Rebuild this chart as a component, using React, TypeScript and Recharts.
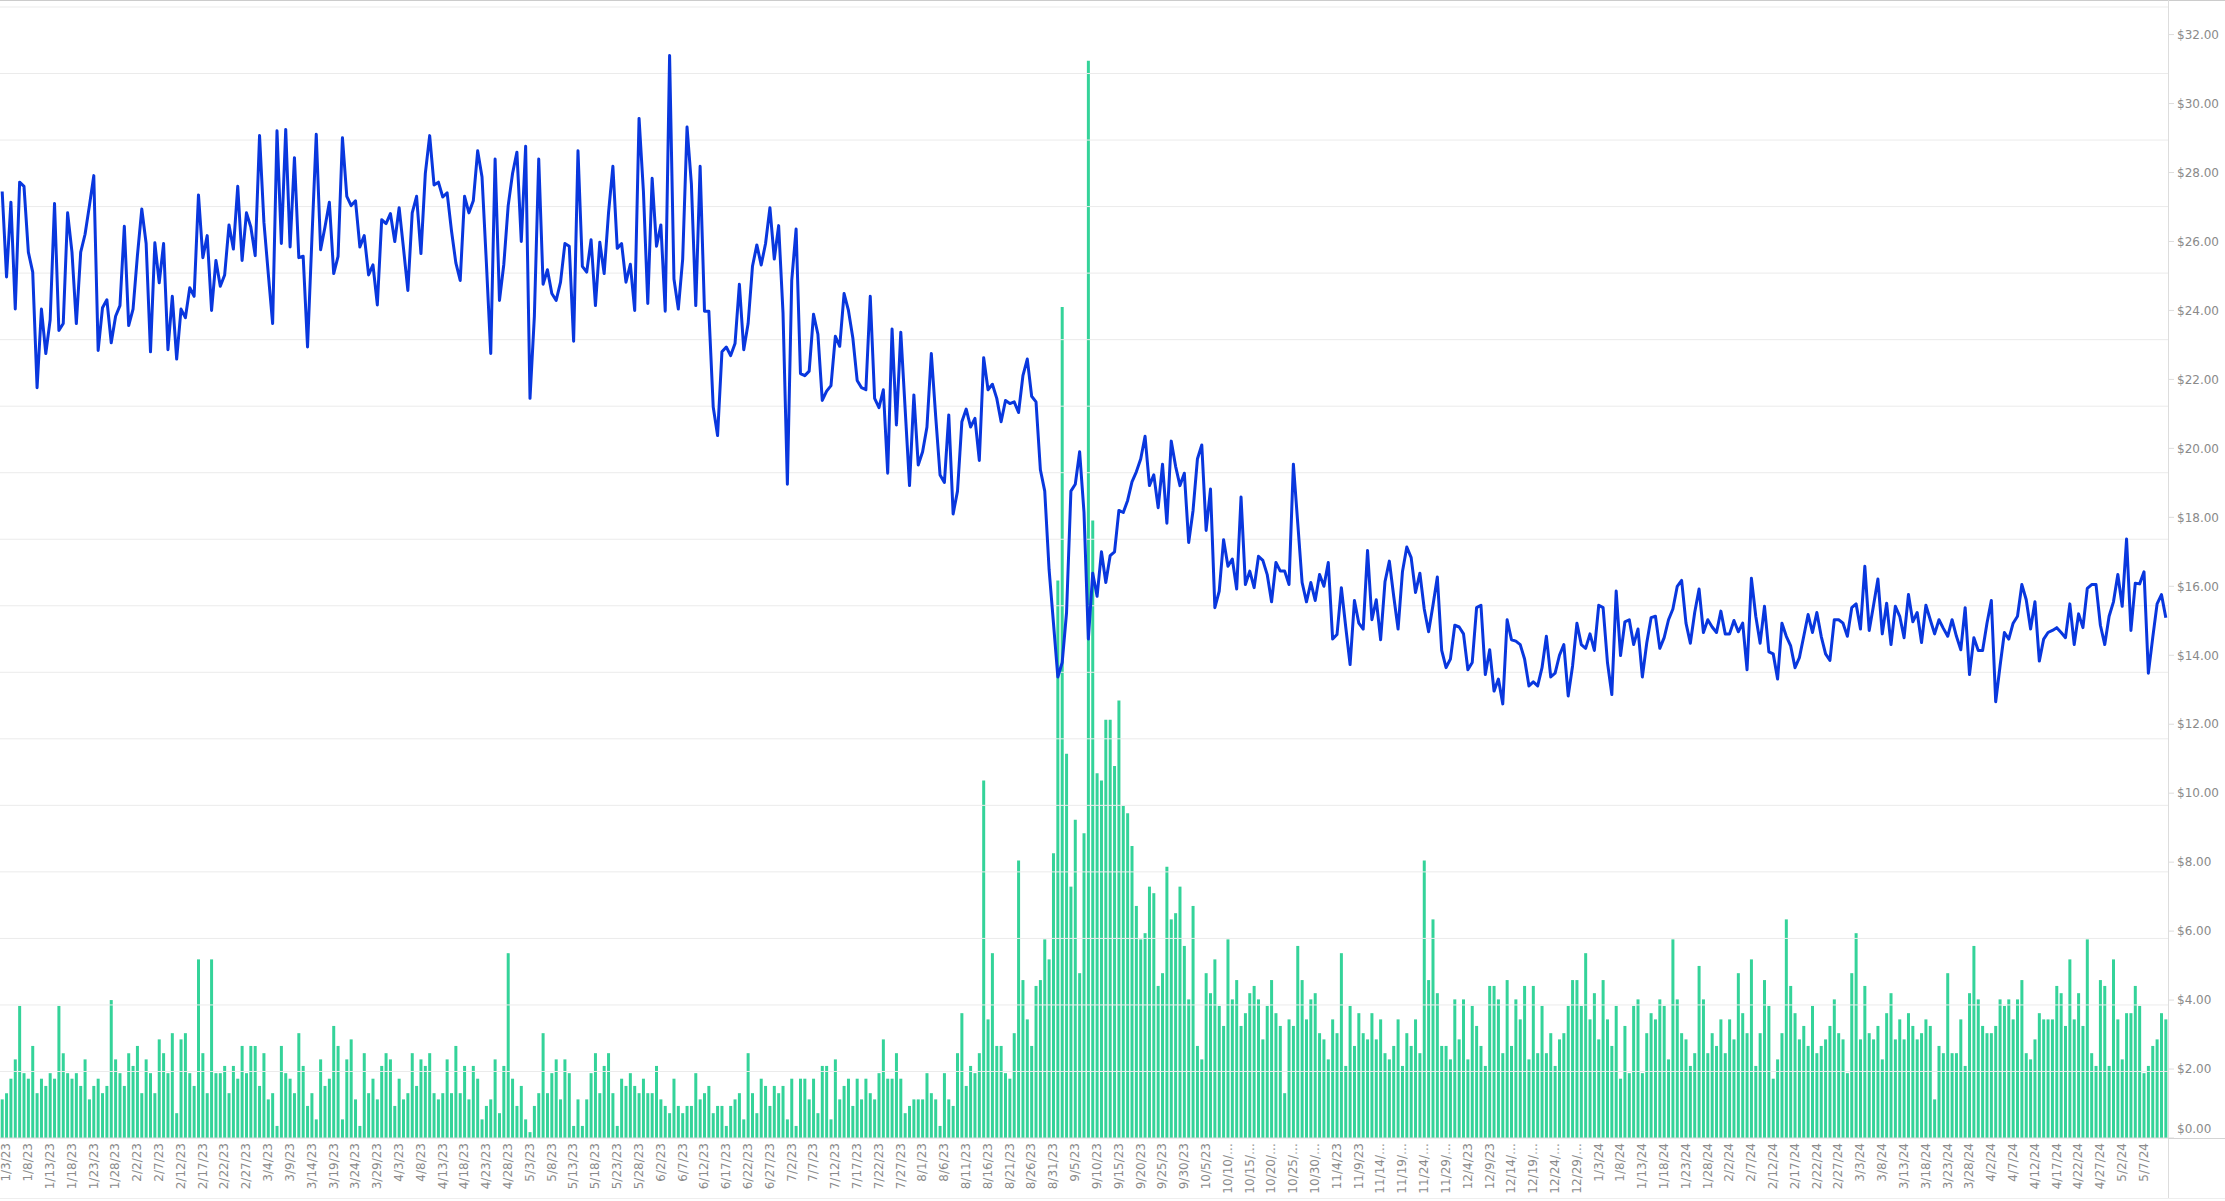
import { ComposedChart, Bar, Line, XAxis, YAxis, ReferenceLine } from "recharts"

// daily closing price, 1/3/23 .. 5/7/23
const priceJanToMay23 = [
  27.45, 24.97, 27.14, 24.04, 27.72, 27.6, 25.69, 25.11, 21.76, 24.04,
  22.75, 23.73, 27.1, 23.42, 23.62, 26.83, 25.69, 23.62, 25.69, 26.21,
  27.04, 27.91, 22.84, 24.08, 24.31, 23.06, 23.83, 24.14, 26.44, 23.56,
  24.04, 25.59, 26.94, 25.94, 22.8, 25.96, 24.8, 25.94, 22.86, 24.41,
  22.59, 24.04, 23.79, 24.66, 24.41, 27.35, 25.53, 26.17, 24.0, 25.45,
  24.7, 25.03, 26.48, 25.78, 27.6, 25.45, 26.83, 26.42, 25.59, 29.07,
  26.56, 25.07, 23.62, 29.21, 25.94, 29.25, 25.84, 28.43, 25.53, 25.57,
  22.94, 26.07, 29.11, 25.76, 26.42, 27.14, 25.07, 25.57, 29.01, 27.31,
  27.04, 27.18, 25.84, 26.17, 25.03, 25.32, 24.16, 26.63, 26.52, 26.81,
  26.0, 26.98, 25.8, 24.58, 26.83, 27.31, 25.65, 27.97, 29.07, 27.64,
  27.72, 27.29, 27.41, 26.31, 25.38, 24.87, 27.31, 26.83, 27.18, 28.63,
  27.87, 25.38, 22.75, 28.39, 24.29, 25.34, 27.04, 27.97, 28.59, 26.0,
  28.76, 21.45, 23.83, 28.39, 24.76,
]

// 5/8/23 .. 9/8/23
const priceMayToSep23 = [
  25.18, 24.49, 24.29, 24.82, 25.94, 25.86, 23.11, 28.63, 25.28, 25.11,
  26.05, 24.14, 25.98, 25.07, 26.83, 28.18, 25.8, 25.94, 24.82, 25.34,
  24.0, 29.57, 27.45, 24.2, 27.83, 25.86, 26.48, 23.98, 31.39, 24.91,
  24.04, 25.49, 29.32, 27.66, 24.14, 28.18, 23.98, 23.98, 21.2, 20.37,
  22.8, 22.94, 22.69, 23.04, 24.76, 22.86, 23.62, 25.28, 25.9, 25.32,
  25.94, 26.98, 25.49, 26.46, 23.93, 18.96, 24.87, 26.36, 22.17, 22.11,
  22.24, 23.89, 23.31, 21.39, 21.66, 21.82, 23.25, 22.96, 24.49, 24.0,
  23.21, 21.97, 21.76, 21.7, 24.41, 21.45, 21.18, 21.7, 19.28, 23.46,
  20.68, 23.37, 21.14, 18.92, 21.55, 19.52, 19.9, 20.62, 22.75, 20.93,
  19.23, 19.01, 20.97, 18.1, 18.76, 20.77, 21.14, 20.62, 20.87, 19.65,
  22.63, 21.7, 21.86, 21.45, 20.77, 21.39, 21.3, 21.35, 21.04, 22.11,
  22.59, 21.51, 21.35, 19.38, 18.76, 16.48, 14.93, 13.37, 13.79, 15.24,
  18.76, 18.96, 19.9, 18.14,
]

// 9/9/23 .. 1/8/24
const priceSep23ToJan24 = [
  14.47, 16.38, 15.71, 17.0, 16.11, 16.89, 17.0, 18.2, 18.14, 18.49,
  19.03, 19.32, 19.69, 20.35, 18.92, 19.23, 18.28, 19.54, 17.83, 20.21,
  19.48, 18.92, 19.28, 17.27, 18.2, 19.69, 20.1, 17.62, 18.82, 15.38,
  15.86, 17.35, 16.58, 16.79, 15.92, 18.59, 16.05, 16.44, 15.96, 16.87,
  16.75, 16.34, 15.55, 16.69, 16.44, 16.44, 16.05, 19.54, 17.83, 16.11,
  15.55, 16.11, 15.59, 16.34, 16.0, 16.69, 14.47, 14.6, 15.96, 14.82,
  13.73, 15.59, 14.93, 14.76, 17.04, 15.03, 15.61, 14.45, 16.13, 16.73,
  15.71, 14.76, 16.42, 17.14, 16.83, 15.82, 16.38, 15.34, 14.68, 15.45,
  16.27, 14.14, 13.64, 13.89, 14.87, 14.82, 14.62, 13.58, 13.79, 15.38,
  15.45, 13.44, 14.16, 12.96, 13.31, 12.59, 15.03, 14.45, 14.41, 14.31,
  13.89, 13.11, 13.23, 13.11, 13.64, 14.55, 13.37, 13.48, 14.0, 14.31,
  12.82, 13.69, 14.93, 14.31, 14.2, 14.62, 14.14, 15.45, 15.38, 13.79,
  12.86, 15.86,
]

// 1/9/24 .. 5/13/24
const priceJanToMay24 = [
  13.99, 14.97, 15.03, 14.31, 14.76, 13.37, 14.35, 15.09, 15.13, 14.2,
  14.51, 15.03, 15.34, 16.0, 16.17, 14.93, 14.35, 15.24, 15.92, 14.66,
  15.03, 14.82, 14.66, 15.28, 14.62, 14.62, 15.01, 14.68, 14.93, 13.58,
  16.23, 15.13, 14.35, 15.42, 14.1, 14.04, 13.31, 14.93, 14.55, 14.27,
  13.64, 13.93, 14.55, 15.18, 14.66, 15.24, 14.55, 14.04, 13.85, 15.03,
  15.03, 14.93, 14.55, 15.38, 15.49, 14.76, 16.58, 14.72, 15.45, 16.21,
  14.62, 15.51, 14.31, 15.42, 15.13, 14.51, 15.76, 14.97, 15.24, 14.37,
  15.45, 15.03, 14.62, 15.03, 14.78, 14.55, 15.03, 14.55, 14.16, 15.38,
  13.44, 14.51, 14.14, 14.14, 14.93, 15.59, 12.65, 13.69, 14.66, 14.47,
  14.93, 15.13, 16.05, 15.61, 14.76, 15.55, 13.83, 14.47, 14.66, 14.72,
  14.8, 14.66, 14.51, 15.49, 14.31, 15.2, 14.8, 15.94, 16.05, 16.05,
  14.87, 14.31, 15.13, 15.55, 16.34, 15.42, 17.37, 14.72, 16.09, 16.07,
  16.42, 13.48, 14.51, 15.49, 15.76, 15.09,
]

// daily volume, same periods
const volumeJanToMay23 = [
  1.12, 1.3, 1.72, 2.28, 3.83, 1.88, 1.72, 2.67, 1.3, 1.72,
  1.51, 1.88, 1.72, 3.83, 2.46, 1.88, 1.72, 1.88, 1.51, 2.28,
  1.12, 1.51, 1.72, 1.3, 1.51, 4.0, 2.28, 1.88, 1.51, 2.46,
  2.09, 2.67, 1.3, 2.28, 1.88, 1.3, 2.86, 2.46, 1.88, 3.04,
  0.72, 2.86, 3.04, 1.88, 1.51, 5.18, 2.46, 1.3, 5.18, 1.88,
  1.88, 2.09, 1.3, 2.09, 1.72, 2.67, 1.88, 2.67, 2.67, 1.51,
  2.46, 1.12, 1.3, 0.35, 2.67, 1.88, 1.72, 1.3, 3.04, 2.09,
  0.93, 1.3, 0.54, 2.28, 1.51, 1.72, 3.25, 2.67, 0.54, 2.28,
  2.86, 1.12, 0.35, 2.46, 1.3, 1.72, 1.12, 2.09, 2.46, 2.28,
  0.93, 1.72, 1.12, 1.3, 2.46, 1.51, 2.28, 2.09, 2.46, 1.3,
  1.12, 1.3, 2.28, 1.3, 2.67, 1.3, 2.09, 1.12, 2.09, 1.72,
  0.54, 0.93, 1.12, 2.28, 0.72, 2.09, 5.36, 1.72, 0.93, 1.51,
  0.54, 0.17, 0.93, 1.3, 3.04,
]

const volumeMayToSep23 = [
  1.3, 1.88, 2.28, 1.12, 2.28, 1.88, 0.35, 1.12, 0.35, 1.12,
  1.88, 2.46, 1.3, 2.09, 2.46, 1.3, 0.35, 1.72, 1.51, 1.88,
  1.51, 1.3, 1.72, 1.3, 1.3, 2.09, 1.12, 0.93, 0.72, 1.72,
  0.93, 0.72, 0.93, 0.93, 1.88, 1.12, 1.3, 1.51, 0.72, 0.93,
  0.93, 0.35, 0.93, 1.12, 1.3, 0.54, 2.46, 1.3, 0.72, 1.72,
  1.51, 0.93, 1.51, 1.3, 1.51, 0.54, 1.72, 0.35, 1.72, 1.72,
  1.12, 1.72, 0.72, 2.09, 2.09, 0.54, 2.28, 1.12, 1.51, 1.72,
  0.93, 1.72, 1.12, 1.72, 1.3, 1.12, 1.88, 2.86, 1.72, 1.72,
  2.46, 1.72, 0.72, 0.93, 1.12, 1.12, 1.12, 1.88, 1.3, 1.12,
  0.35, 1.88, 1.12, 0.93, 2.46, 3.62, 1.51, 2.09, 1.88, 2.46,
  10.37, 3.44, 5.36, 2.67, 2.67, 1.88, 1.72, 3.04, 8.05, 4.58,
  3.44, 2.67, 4.41, 4.58, 5.76, 5.18, 8.26, 16.17, 24.1, 11.14,
  7.29, 9.23, 4.78, 8.84,
]

const volumeSep23ToJan24 = [
  31.24, 17.91, 10.58, 10.37, 12.13, 12.13, 10.79, 12.69, 9.63, 9.42,
  8.47, 6.73, 5.76, 5.94, 7.29, 7.1, 4.41, 4.78, 7.87, 6.34,
  6.52, 7.29, 5.57, 4.02, 6.73, 2.67, 2.28, 4.78, 4.2, 5.18,
  3.83, 3.25, 5.76, 4.02, 4.58, 3.25, 3.62, 4.2, 4.41, 4.02,
  2.86, 3.83, 4.58, 3.62, 3.25, 1.3, 3.44, 3.25, 5.57, 4.58,
  3.44, 4.02, 4.2, 3.04, 2.86, 2.28, 3.44, 3.04, 5.36, 2.09,
  3.83, 2.67, 3.62, 3.04, 2.86, 3.62, 2.86, 3.44, 2.46, 2.28,
  2.67, 3.44, 2.09, 3.04, 2.67, 3.44, 2.46, 8.05, 4.58, 6.34,
  4.2, 2.67, 2.67, 2.28, 4.02, 2.86, 4.02, 2.28, 3.83, 3.25,
  2.67, 2.09, 4.41, 4.41, 4.02, 2.46, 4.58, 2.67, 4.02, 3.44,
  4.41, 2.28, 4.41, 2.46, 3.83, 2.46, 3.04, 2.09, 2.86, 3.04,
  3.83, 4.58, 4.58, 3.83, 5.36, 3.44, 4.2, 2.86, 4.58, 3.44,
  2.67, 3.83,
]

const volumeJanToMay24 = [
  1.72, 3.25, 1.88, 3.83, 4.02, 1.88, 3.04, 3.62, 3.44, 4.02,
  3.83, 2.28, 5.76, 4.02, 3.04, 2.86, 2.09, 2.46, 4.99, 4.02,
  2.46, 3.04, 2.67, 3.44, 2.46, 3.44, 2.86, 4.78, 3.62, 3.04,
  5.18, 2.09, 3.04, 4.58, 3.83, 1.72, 2.28, 3.04, 6.34, 4.41,
  3.62, 2.86, 3.25, 2.67, 3.83, 2.46, 2.67, 2.86, 3.25, 4.02,
  3.04, 2.86, 1.88, 4.78, 5.94, 2.86, 4.41, 3.04, 2.86, 3.25,
  2.28, 3.62, 4.2, 2.86, 3.44, 2.86, 3.62, 3.25, 2.86, 3.04,
  3.44, 3.25, 1.12, 2.67, 2.46, 4.78, 2.46, 2.46, 3.44, 2.09,
  4.2, 5.57, 4.02, 3.25, 3.04, 3.04, 3.25, 4.02, 3.83, 4.02,
  3.44, 4.02, 4.58, 2.46, 2.28, 2.86, 3.62, 3.44, 3.44, 3.44,
  4.41, 4.2, 3.25, 5.18, 3.44, 4.2, 3.25, 5.76, 2.46, 2.09,
  4.58, 4.41, 2.09, 5.18, 3.44, 2.28, 3.62, 3.62, 4.41, 3.83,
  1.88, 2.09, 2.67, 2.86, 3.62, 3.44,
]

const prices = [...priceJanToMay23, ...priceMayToSep23, ...priceSep23ToJan24, ...priceJanToMay24]
const volumes = [...volumeJanToMay23, ...volumeMayToSep23, ...volumeSep23ToJan24, ...volumeJanToMay24]

// one category per day starting 1/3/23
const firstDay = { year: 2023, month: 0, day: 3 }
const lastLabel = "5/7/24"
const dayLabels = prices.map((_, i) => {
  const d = new Date(Date.UTC(firstDay.year, firstDay.month, firstDay.day + i))
  return `${d.getUTCMonth() + 1}/${d.getUTCDate()}/${String(d.getUTCFullYear()).slice(2)}`
})
// every fifth day gets a label, up to 5/7/24
const dateTicks = dayLabels.filter((_, i) => i % 5 === 0 && i <= dayLabels.indexOf(lastLabel))

const priceTicks = [0, 2, 4, 6, 8, 10, 12, 14, 16, 18, 20, 22, 24, 26, 28, 30, 32]
// the grid lines follow their own, unlabelled scale
const gridSteps = [1, 2, 3, 4, 5, 6, 7, 8, 9, 10, 11, 12, 13, 14, 15, 16, 17]

const data = dayLabels.map((date, i) => ({ date, price: prices[i], volume: volumes[i] }))

const FONT = "DejaVu Sans, Verdana, sans-serif"

function DateTick(props: any) {
  const { x, y, payload } = props
  const raw = String(payload.value)
  const label = raw.length > 7 ? raw.slice(0, 6) + "…" : raw
  const tx = x + 4
  return (
    <text
      x={tx}
      y={y}
      transform={`rotate(-90, ${tx}, ${y})`}
      textAnchor="end"
      dy="0.35em"
      fill="#8a8a8a"
      fontSize={12}
      fontFamily={FONT}
    >
      {label}
    </text>
  )
}

function PriceTick(props: any) {
  const { x, y, payload } = props
  const v = Number(payload.value)
  // the bottom label sits a little above the baseline
  return (
    <text x={x} y={v === 0 ? y - 9 : y} dy="0.355em" textAnchor="start" fill="#8a8a8a" fontSize={12} fontFamily={FONT}>
      {"$" + v.toFixed(2)}
    </text>
  )
}

export default function App() {
  return (
    <div style={{ position: "absolute", left: 0, top: 0, width: 2225, height: 1201, background: "#fff", fontFamily: FONT }}>
      <ComposedChart width={2225} height={1201} data={data} margin={{ top: 7, right: 0, bottom: 0, left: 0 }} barCategoryGap="16%">
        <XAxis
          dataKey="date"
          ticks={dateTicks}
          interval={0}
          height={63}
          tickSize={0}
          tickMargin={5}
          tickLine={false}
          axisLine={{ stroke: "#d4d4d4" }}
          tick={DateTick}
        />
        <YAxis
          yAxisId="grid"
          orientation="left"
          width={0}
          domain={[0, 17]}
          axisLine={false}
          tickLine={false}
          tick={false}
        />
        <YAxis
          yAxisId="price"
          orientation="right"
          width={57}
          domain={[0, 32.8]}
          ticks={priceTicks}
          axisLine={false}
          tickLine={{ stroke: "#dddddd" }}
          tickSize={6}
          tickMargin={3}
          tick={PriceTick}
          allowDataOverflow
        />
        {gridSteps.map((g) => (
          <ReferenceLine key={g} yAxisId="grid" y={g} stroke="#ebebeb" strokeWidth={1} ifOverflow="extendDomain" />
        ))}
        <Bar yAxisId="price" dataKey="volume" fill="#34d399" isAnimationActive={false} />
        <Line
          yAxisId="price"
          type="linear"
          dataKey="price"
          stroke="#0937de"
          strokeWidth={3}
          strokeLinejoin="round"
          dot={false}
          activeDot={false}
          isAnimationActive={false}
        />
      </ComposedChart>
      <div style={{ position: "absolute", left: 0, top: 0, width: 2225, height: 1, background: "#cccccc" }} />
      <div style={{ position: "absolute", left: 2168, top: 0, width: 1, height: 1199, background: "#dddddd" }} />
      <div style={{ position: "absolute", left: 2168, top: 1138, width: 57, height: 1, background: "#d4d4d4" }} />
      <div style={{ position: "absolute", left: 0, top: 1198, width: 2225, height: 1, background: "#eeeeee" }} />
    </div>
  )
}
